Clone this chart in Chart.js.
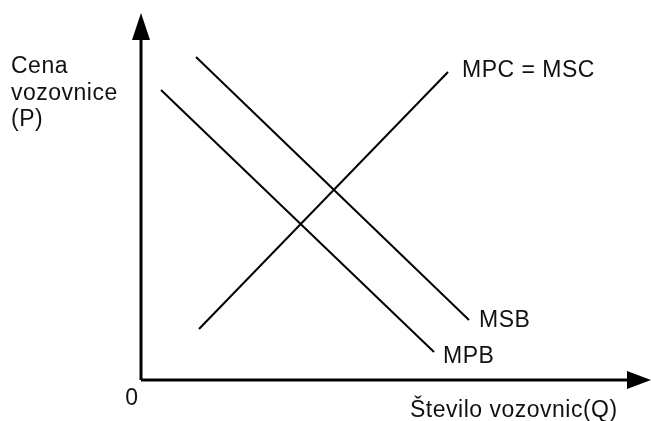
<!DOCTYPE html>
<html>
<head>
<meta charset="utf-8">
<script src="https://cdn.jsdelivr.net/npm/chart.js@4.4.1/dist/chart.umd.min.js"></script>
<style>
  html, body { margin: 0; padding: 0; background: #fff; }
  #wrap { width: 651px; height: 421px; position: relative; }
</style>
</head>
<body>
<div id="wrap"><canvas id="econChart"></canvas></div>
<script>
// Curves in diagram units (Q to the right, P upwards, origin at the axes' corner)
const mpcMsc = [{ x: 5.8, y: 5.1 }, { x: 30.7, y: 30.8 }];
const mpb = [{ x: 2.0, y: 29.0 }, { x: 29.3, y: 2.8 }];
const msb = [{ x: 5.5, y: 32.3 }, { x: 32.8, y: 6.0 }];
const yAxisLine = [{ x: 0, y: 0 }, { x: 0, y: 34.5 }];
const xAxisLine = [{ x: 0, y: 0 }, { x: 49, y: 0 }];

const curveLabels = ['MPC = MSC', 'MSB', 'MPB'];
const yTitle = ['Cena', 'vozovnice', '(P)'];
const xTitle = 'Število vozovnic(Q)';
const originLabel = '0';

const FONT = '23px "Liberation Sans", Arial, sans-serif';

const lineSet = (data, width) => ({
    data,
    showLine: true,
    borderColor: '#000',
    borderWidth: width,
    pointRadius: 0,
    fill: false
});

// arrows and texts drawn on top, placed through the scales
const annotations = {
    id: 'annotations',
    afterDatasetsDraw(chart) {
        const { ctx, scales: { x, y } } = chart;
        const px = v => x.getPixelForValue(v);
        const py = v => y.getPixelForValue(v);
        ctx.save();
        ctx.fillStyle = '#000';
        // y arrow head
        ctx.beginPath();
        ctx.moveTo(px(0), py(36.7));
        ctx.lineTo(px(0) - 9, py(34.0));
        ctx.lineTo(px(0) + 9, py(34.0));
        ctx.closePath();
        ctx.fill();
        // x arrow head
        ctx.beginPath();
        ctx.moveTo(px(51.0), py(0));
        ctx.lineTo(px(48.6), py(0) - 9);
        ctx.lineTo(px(48.6), py(0) + 9);
        ctx.closePath();
        ctx.fill();

        ctx.font = FONT;
        ctx.fillStyle = '#111';
        ctx.textBaseline = 'alphabetic';
        try { ctx.letterSpacing = '0.5px'; } catch (e) {}
        ctx.textAlign = 'left';
        ctx.fillText(curveLabels[0], px(mpcMsc[1].x) + 14, py(mpcMsc[1].y) + 5);
        ctx.fillText(curveLabels[1], px(msb[1].x) + 10, py(msb[1].y) + 7);
        ctx.fillText(curveLabels[2], px(mpb[1].x) + 9, py(mpb[1].y) + 11);
        yTitle.forEach((t, i) => ctx.fillText(t, 11, 73 + i * 26.5));
        ctx.fillText(xTitle, px(26.9), py(0) + 37);
        ctx.textAlign = 'center';
        ctx.fillText(originLabel, px(0) - 9, py(0) + 25);
        ctx.restore();
    }
};

new Chart(document.getElementById('econChart'), {
    type: 'scatter',
    data: {
        datasets: [
            lineSet(yAxisLine, 3),
            lineSet(xAxisLine, 3),
            lineSet(mpcMsc, 2),
            lineSet(mpb, 2),
            lineSet(msb, 2)
        ]
    },
    options: {
        responsive: true,
        maintainAspectRatio: false,
        animation: false,
        layout: { padding: 0 },
        plugins: { legend: { display: false }, tooltip: { enabled: false } },
        scales: {
            x: { type: 'linear', display: false, min: -14.1, max: 51.0 },
            y: { type: 'linear', display: false, min: -4.1, max: 38.0 }
        }
    },
    plugins: [annotations]
});
</script>
</body>
</html>
